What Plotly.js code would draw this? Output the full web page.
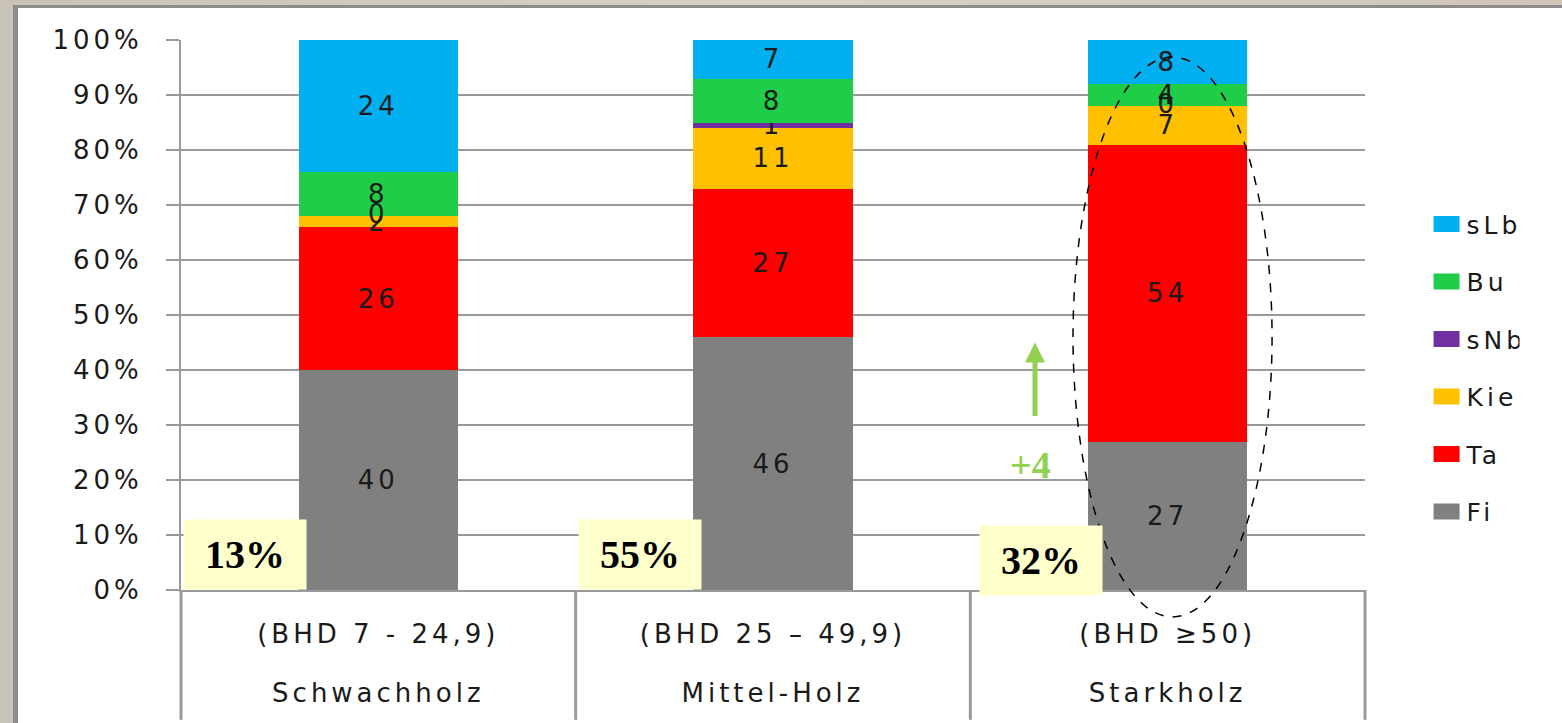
<!DOCTYPE html>
<html>
<head>
<meta charset="utf-8">
<script src="https://cdn.plot.ly/plotly-3.0.1.min.js"></script>
<style>
  html, body { margin: 0; padding: 0; width: 1562px; height: 723px; overflow: hidden;
    background: linear-gradient(90deg, #c9c2b6 0%, #d8d1c5 50%, #cfc6b8 100%); }
  #panel { position: absolute; left: 13px; top: 5px; width: 1549px; height: 718px;
    background: #ffffff; border-left: 5px solid #8c8c8c; border-top: 3px solid #8c8c8c; box-sizing: border-box; }
  #chart { position: absolute; left: 0; top: 0; width: 1562px; height: 723px; }
  #chart .ytick text, #chart .xtick text, #chart .x2tick text, #chart .legendtext, .bartext, #chart .textpoint text { letter-spacing: 4px; }
  #chart .legendpoints path { d: path("M13,8H-13V-8H13Z"); }
</style>
</head>
<body>
<div id="panel"></div>
<div id="chart"></div>
<script>
// ---- data ----
const groups = ["Schwachholz", "Mittel-Holz", "Starkholz"];
const ranges = ["(BHD 7 - 24,9)", "(BHD 25 \u2013 49,9)", "(BHD \u226550)"];
const species = ["Fi", "Ta", "Kie", "sNb", "Bu", "sLb"];
const Fi  = [40, 46, 27];
const Ta  = [26, 27, 54];
const Kie = [2, 11, 7];
const sNb = [0, 1, 0];
const Bu  = [8, 8, 4];
const sLb = [24, 7, 8];
const shares = ["13%", "55%", "32%"];
const increaseLabel = "+4";

const seriesValues = [Fi, Ta, Kie, sNb, Bu, sLb];
const colors = ["#808080", "#ff0000", "#ffc000", "#7030a0", "#1fcd48", "#00b0f0"];

const FONT = "DejaVu Sans, Verdana, sans-serif";
const labelFont = { family: FONT, size: 26, color: "#1a1a1a" };

const traces = species.map((name, i) => ({
  type: "bar",
  name: name,
  legendgroup: name,
  legendrank: species.length - i,
  x: groups,
  y: seriesValues[i],
  marker: { color: colors[i], line: { width: 0 } },
  text: seriesValues[i].map(v => v === 0 ? "" : String(v)),
  textposition: "inside",
  insidetextanchor: "middle",
  constraintext: "none",
  textangle: 0,
  insidetextfont: labelFont,
  hoverinfo: "name+y"
}));

// labels for zero-height segments, drawn where the segment sits in the stack
const zx = [], zy = [], zt = [];
species.forEach((s, i) => seriesValues[i].forEach((v, j) => {
  if (v === 0) {
    let base = 0;
    for (let k = 0; k < i; k++) base += seriesValues[k][j];
    zx.push(groups[j]); zy.push(base); zt.push("0");
  }
}));
traces.push({
  type: "scatter", mode: "text", x: zx, y: zy, text: zt, xaxis: "x2", yaxis: "y",
  textposition: "middle center", textfont: labelFont,
  showlegend: false, hoverinfo: "skip", cliponaxis: false
});

const gridCol = "#9a9a9a";
const n = groups.length;
const dividers = [];
for (let k = 0; k <= n; k++) {
  dividers.push({ type: "line", xref: "paper", yref: "paper", x0: k / n, x1: k / n, y0: 0, y1: -0.236,
    line: { color: gridCol, width: 3 }, layer: "below" });
}

const layout = {
  width: 1562, height: 723,
  paper_bgcolor: "rgba(0,0,0,0)", plot_bgcolor: "rgba(0,0,0,0)",
  margin: { l: 181, r: 197, t: 40, b: 133 },
  barmode: "stack",
  bargap: 0.597,
  font: { family: FONT, size: 26, color: "#1a1a1a" },
  xaxis: {
    type: "category", range: [-0.5, n - 0.5],
    categoryorder: "array", categoryarray: groups,
    tickvals: groups, ticktext: ranges,
    showgrid: false, ticks: "",
    showline: true, linecolor: gridCol, linewidth: 2,
    tickfont: { family: FONT, size: 26, color: "#1a1a1a" },
    ticklabelstandoff: 20, fixedrange: true
  },
  xaxis2: {
    overlaying: "x", anchor: "y", side: "bottom",
    type: "category", range: [-0.5, n - 0.5],
    categoryorder: "array", categoryarray: groups,
    tickvals: groups, ticktext: groups,
    showgrid: false, zeroline: false, showline: false, ticks: "",
    tickfont: { family: FONT, size: 26, color: "#1a1a1a" },
    ticklabelstandoff: 85, fixedrange: true
  },
  yaxis: {
    range: [0, 100], dtick: 10, ticksuffix: "%",
    showgrid: true, gridcolor: gridCol, gridwidth: 2,
    ticks: "outside", ticklen: 13, tickwidth: 2, tickcolor: gridCol,
    showline: true, linecolor: gridCol, linewidth: 2,
    zeroline: false,
    tickfont: { family: FONT, size: 26, color: "#1a1a1a" },
    ticklabelstandoff: 18,
    fixedrange: true
  },
  legend: {
    x: 1.052, xanchor: "left", y: 0.404, yanchor: "middle",
    traceorder: "grouped", tracegroupgap: 22,
    font: { family: FONT, size: 25, color: "#1a1a1a" },
    bgcolor: "rgba(0,0,0,0)"
  },
  shapes: dividers.concat([
    { type: "circle", xref: "paper", yref: "paper", x0: 0.7534, x1: 0.9215, y0: -0.049, y1: 0.969,
      line: { color: "#000000", width: 1.5, dash: "dash" }, layer: "above" }
  ]),
  annotations: [
    ...shares.map((s, j) => ({
      xref: "paper", yref: "y", xanchor: "center", yanchor: "middle",
      x: [0.054, 0.388, 0.726][j], y: [6.45, 6.45, 5.3][j],
      text: "<b>" + s + "</b>", showarrow: false,
      font: { family: "Liberation Serif, Times New Roman, serif", size: 40, color: "#000000" },
      bgcolor: "#ffffcc", width: 118, height: 65, borderpad: 2
    })),
    { xref: "paper", yref: "y", x: 0.7213, y: 45, ax: 0, ay: 75, text: "", showarrow: true,
      arrowhead: 2, arrowsize: 0.8, arrowwidth: 5, arrowcolor: "#92d050", standoff: 0 },
    { xref: "paper", yref: "y", xanchor: "center", yanchor: "middle", x: 0.7171, y: 22.8,
      text: "<b>" + increaseLabel + "</b>", showarrow: false,
      font: { family: "Liberation Serif, Times New Roman, serif", size: 38, color: "#92d050" } }
  ]
};

Plotly.newPlot("chart", traces, layout, { displayModeBar: false, staticPlot: true });
</script>
</body>
</html>
